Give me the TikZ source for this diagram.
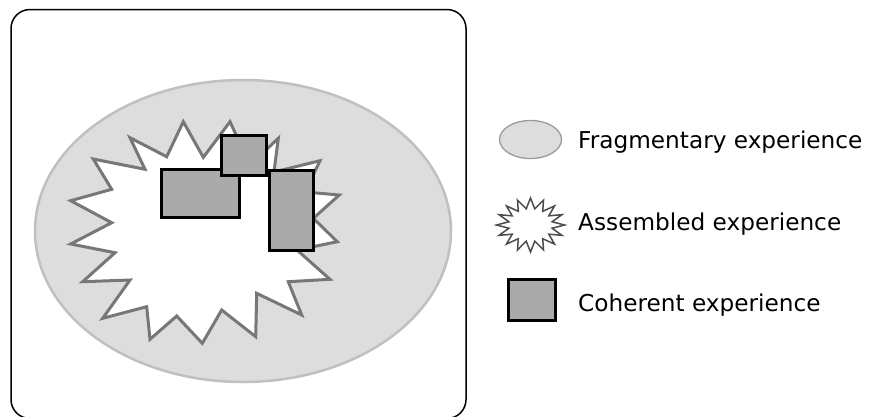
\documentclass[tikz,border=0pt]{standalone}
\usepackage{fontspec}
\setmainfont{DejaVu Sans}
\definecolor{fragfill}{HTML}{DDDDDD}
\definecolor{fragline}{HTML}{C0C0C0}
\definecolor{starline}{HTML}{777777}
\definecolor{cohfill}{HTML}{AAAAAA}
\tikzset{
  frame/.style={draw=black, line width=1.5pt, rounded corners=19pt},
  frag/.style={draw=fragline, fill=fragfill, line width=2.5pt},
  legfrag/.style={draw=fragline!80!black, fill=fragfill, line width=1.3pt},
  star/.style={draw=starline, fill=white, line width=3pt, line join=miter},
  legstar/.style={draw=black!70, fill=white, line width=1.5pt, line join=miter},
  coh/.style={draw=black, fill=cohfill, line width=3pt},
  legtext/.style={anchor=base west, inner sep=0pt, font=\fontsize{23.2}{26}\selectfont}
}
\begin{document}
\begin{tikzpicture}[x=1pt,y=-1pt]
\useasboundingbox (0,0) rectangle (869,416);
% outer frame
\draw[frame] (11,9.5) rectangle (466,418.5);
% fragmentary experience
\draw[frag] (243,231) ellipse [x radius=208, y radius=151];
% assembled experience
\draw[star] (130,137.7) -- (166.7,156.7) -- (183.3,121.7) -- (203.3,157.3)
  -- (230,121.7) -- (250,165) -- (278.3,138.3) -- (274,172) -- (320,160.7)
  -- (305,192) -- (339.3,195) -- (313.3,218.3) -- (337.3,241.7) -- (297,250)
  -- (330,279.3) -- (288.3,281.7) -- (301.7,315) -- (256.7,293.3) -- (255.7,336.7)
  -- (221.7,310) -- (202.3,343.3) -- (176.7,316) -- (150,339.3) -- (146.7,306.7)
  -- (102.7,318.3) -- (130,280) -- (82.7,281.7) -- (115,252.7) -- (70.7,244)
  -- (111.7,222.7) -- (70.7,200.7) -- (111.7,189.3) -- (93.3,159) -- (145,169.3) -- cycle;
% coherent experience
\node[coh, minimum width=78pt, minimum height=47.7pt, inner sep=0pt] (c1) at (200.8,193.8) {};
\node[coh, minimum width=45pt, minimum height=39.7pt, inner sep=0pt] (c2) at (244.2,155.8) {};
\node[coh, minimum width=44.7pt, minimum height=80pt, inner sep=0pt] (c3) at (291.6,210) {};
% legend
\draw[legfrag] (530.5,139.5) ellipse [x radius=31, y radius=19];
\node[legtext] (t1) at (578,148.3) {Fragmentary experience};
\draw[legstar] (530.5,225) +(90:34 and 27)
  \foreach \i in {0,...,15} { -- +({101.25+\i*22.5}:22 and 16.5) -- +({112.5+\i*22.5}:34 and 27) } -- cycle;
\node[legtext] (t2) at (578,230) {Assembled experience};
\node[coh, minimum width=46.7pt, minimum height=40.7pt, inner sep=0pt] (lc) at (531.7,300.3) {};
\node[legtext] (t3) at (578,311.7) {Coherent experience};
\end{tikzpicture}
\end{document}
